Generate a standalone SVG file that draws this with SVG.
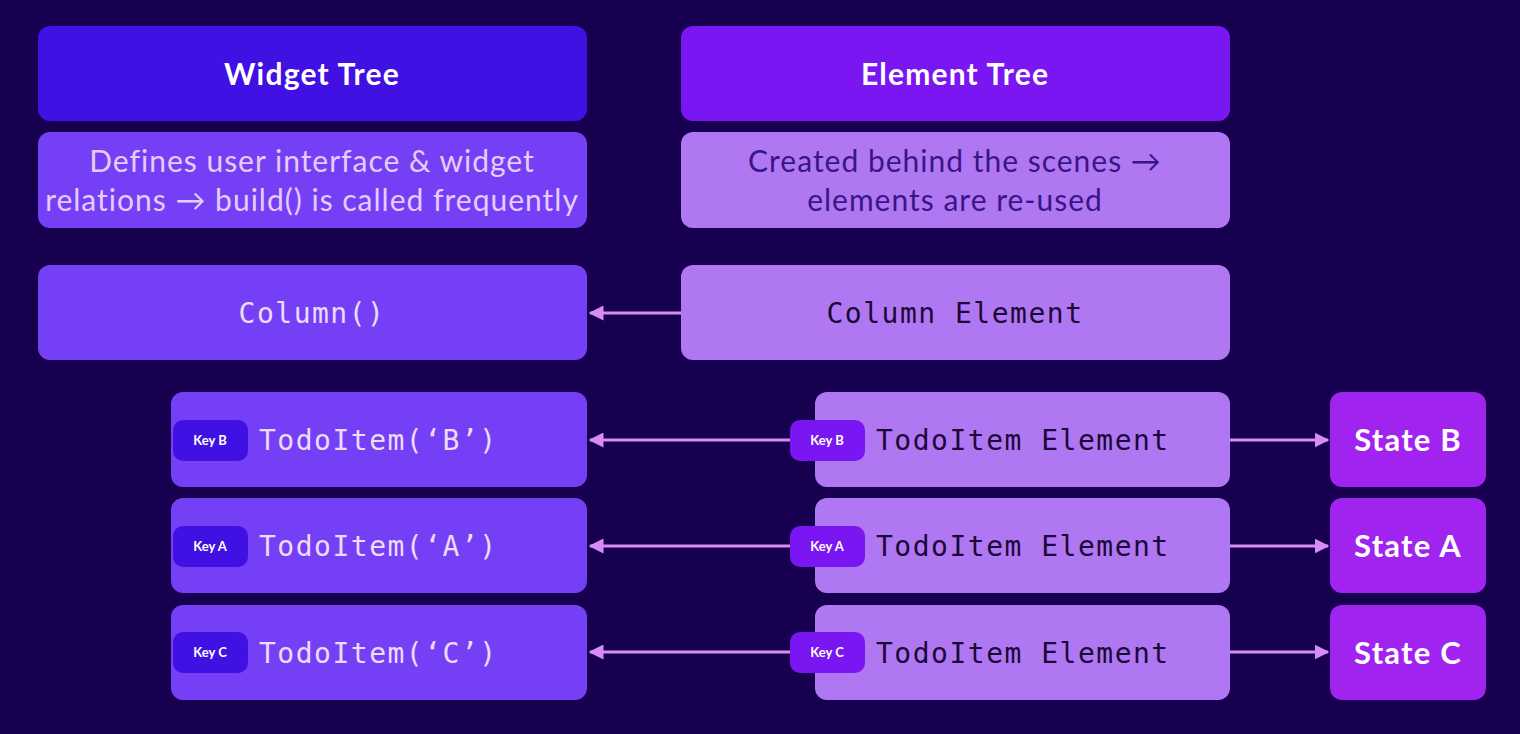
<svg xmlns="http://www.w3.org/2000/svg" width="1520" height="734" viewBox="0 0 1520 734">
<defs>
<style>
.bg{fill:#170050}
.hdrW{fill:#4110e2}
.hdrE{fill:#7a16f2}
.wbox{fill:#7540f5}
.ebox{fill:#b077f2}
.sbox{fill:#a023ef}
.kW{fill:#4110e2}
.kE{fill:#7a16f2}
.title{font-family:Lato,"Noto Sans",sans-serif;font-weight:700;font-size:30px;letter-spacing:1.2px;fill:#ffffff;text-anchor:middle}
.descW{font-family:Lato,"Noto Sans",sans-serif;font-size:30px;letter-spacing:1px;fill:#e6ccfb;text-anchor:middle}
.descE{font-family:Lato,"Noto Sans",sans-serif;font-size:30px;letter-spacing:1px;fill:#3a1585;text-anchor:middle}
.monoW{font-family:"DejaVu Sans Mono",monospace;font-size:28px;fill:#ecdcfc;letter-spacing:1.5px}
.monoE{font-family:"DejaVu Sans Mono",monospace;font-size:28px;fill:#1c0838;letter-spacing:1.5px}
.key{font-family:Lato,"Noto Sans",sans-serif;font-weight:700;font-size:13px;fill:#ffffff;text-anchor:middle}
.state{font-family:Lato,"Noto Sans",sans-serif;font-weight:700;font-size:31px;letter-spacing:1.2px;fill:#ffffff;text-anchor:middle}
.conn{stroke:#d68cf4;stroke-width:3;fill:none;marker-end:url(#ah)}
</style>
<marker id="ah" viewBox="0 0 10 10" refX="9" refY="5" markerWidth="5" markerHeight="5" orient="auto" markerUnits="strokeWidth">
<path d="M0,0 L10,5 L0,10 Z" fill="#d68cf4"/>
</marker>
</defs>
<rect class="bg" x="0" y="0" width="1520" height="734"/>

<g id="widget-tree-header">
<rect class="hdrW" x="38" y="26" width="549" height="95" rx="12"/>
<text class="title" x="312" y="85">Widget Tree</text>
</g>
<g id="element-tree-header">
<rect class="hdrE" x="681" y="26" width="549" height="95" rx="12"/>
<text class="title" x="955" y="85">Element Tree</text>
</g>
<g id="widget-desc">
<rect class="wbox" x="38" y="132" width="549" height="96" rx="12"/>
<text class="descW" x="312" y="172">Defines user interface &amp; widget</text>
<text class="descW" x="312" y="211">relations → build() is called frequently</text>
</g>
<g id="element-desc">
<rect class="ebox" x="681" y="132" width="549" height="96" rx="12"/>
<text class="descE" x="955" y="172">Created behind the scenes →</text>
<text class="descE" x="955" y="211">elements are re-used</text>
</g>

<g id="column-widget">
<rect class="wbox" x="38" y="265" width="549" height="95" rx="12"/>
<text class="monoW" x="312" y="323" text-anchor="middle">Column()</text>
</g>
<g id="column-element">
<rect class="ebox" x="681" y="265" width="549" height="95" rx="12"/>
<text class="monoE" x="955" y="323" text-anchor="middle">Column Element</text>
</g>

<g id="todo-b-widget">
<rect class="wbox" x="171" y="392" width="416" height="95" rx="12"/>
<rect class="kW" x="173" y="420" width="75" height="41" rx="10"/>
<text class="key" x="210" y="445">Key B</text>
<text class="monoW" x="259" y="450">TodoItem(‘B’)</text>
</g>
<g id="todo-a-widget">
<rect class="wbox" x="171" y="498" width="416" height="95" rx="12"/>
<rect class="kW" x="173" y="526" width="75" height="41" rx="10"/>
<text class="key" x="210" y="551">Key A</text>
<text class="monoW" x="259" y="556">TodoItem(‘A’)</text>
</g>
<g id="todo-c-widget">
<rect class="wbox" x="171" y="605" width="416" height="95" rx="12"/>
<rect class="kW" x="173" y="632" width="75" height="41" rx="10"/>
<text class="key" x="210" y="657">Key C</text>
<text class="monoW" x="259" y="663">TodoItem(‘C’)</text>
</g>

<g id="todo-b-element">
<rect class="ebox" x="815" y="392" width="415" height="95" rx="12"/>
<rect class="kE" x="790" y="420" width="75" height="41" rx="10"/>
<text class="key" x="827" y="445">Key B</text>
<text class="monoE" x="876" y="450">TodoItem Element</text>
</g>
<g id="todo-a-element">
<rect class="ebox" x="815" y="498" width="415" height="95" rx="12"/>
<rect class="kE" x="790" y="526" width="75" height="41" rx="10"/>
<text class="key" x="827" y="551">Key A</text>
<text class="monoE" x="876" y="556">TodoItem Element</text>
</g>
<g id="todo-c-element">
<rect class="ebox" x="815" y="605" width="415" height="95" rx="12"/>
<rect class="kE" x="790" y="632" width="75" height="41" rx="10"/>
<text class="key" x="827" y="657">Key C</text>
<text class="monoE" x="876" y="663">TodoItem Element</text>
</g>

<g id="state-b">
<rect class="sbox" x="1330" y="392" width="156" height="95" rx="12"/>
<text class="state" x="1408" y="451">State B</text>
</g>
<g id="state-a">
<rect class="sbox" x="1330" y="498" width="156" height="95" rx="12"/>
<text class="state" x="1408" y="557">State A</text>
</g>
<g id="state-c">
<rect class="sbox" x="1330" y="605" width="156" height="95" rx="12"/>
<text class="state" x="1408" y="664">State C</text>
</g>

<g id="connectors">
<line class="conn" x1="681" y1="313" x2="590" y2="313"/>
<line class="conn" x1="790" y1="440" x2="590" y2="440"/>
<line class="conn" x1="790" y1="546" x2="590" y2="546"/>
<line class="conn" x1="790" y1="652" x2="590" y2="652"/>
<line class="conn" x1="1230" y1="440" x2="1328" y2="440"/>
<line class="conn" x1="1230" y1="546" x2="1328" y2="546"/>
<line class="conn" x1="1230" y1="652" x2="1328" y2="652"/>
</g>
</svg>
